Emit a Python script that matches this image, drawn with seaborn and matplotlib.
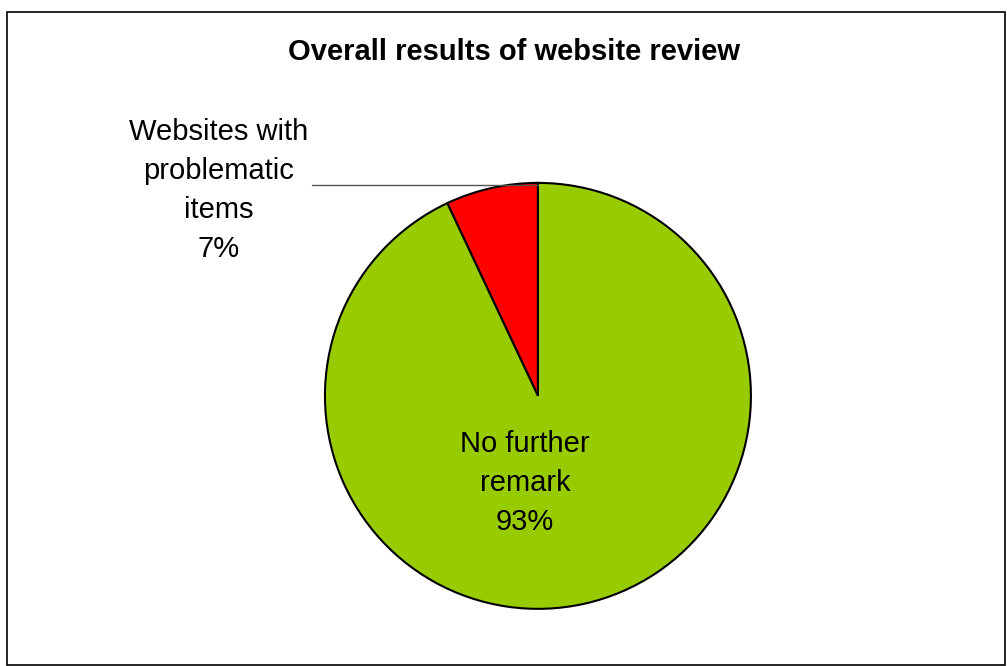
import matplotlib
matplotlib.use("Agg")
import matplotlib.pyplot as plt
import seaborn as sns
from matplotlib.patches import Rectangle

categories = ["Websites with\nproblematic\nitems", "No further\nremark"]
shares = [7, 93]
colors = ["#ff0000", "#99cc00"]
title = "Overall results of website review"

sns.set_style("white")
plt.rcParams['font.family'] = ['Liberation Sans', 'DejaVu Sans']

fig = plt.figure(figsize=(10.07, 6.66), dpi=100)
ax = fig.add_axes([0.3227, 0.0856, 0.423, 0.640])

wedges, _ = ax.pie(shares, colors=colors, startangle=90, counterclock=True,
                   wedgeprops=dict(edgecolor="black", linewidth=1.5))
ax.set_xlim(-1, 1)
ax.set_ylim(-1, 1)
ax.set_aspect("equal")
ax.axis("off")

# labels
ax.text(-0.06, -0.41, f"{categories[1]}\n{shares[1]}%", ha="center", va="center",
        fontsize=21, linespacing=1.5, color="black")
ax.text(-1.50, 0.965, f"{categories[0]}\n{shares[0]}%", ha="center", va="center",
        fontsize=21, linespacing=1.5, color="black", clip_on=False)
ax.plot([-1.06, 0], [0.99, 0.99], color="#555555", linewidth=1, clip_on=False)

fig.text(0.51, 0.922, title, ha="center", va="center", fontsize=21,
         fontweight="bold", color="black")

fig.patches.append(Rectangle((7 / 1007, 1 / 666), 998 / 1007, 653 / 666,
                             transform=fig.transFigure, fill=False,
                             edgecolor="black", linewidth=1.2))

fig.savefig("out.png", dpi=100)
